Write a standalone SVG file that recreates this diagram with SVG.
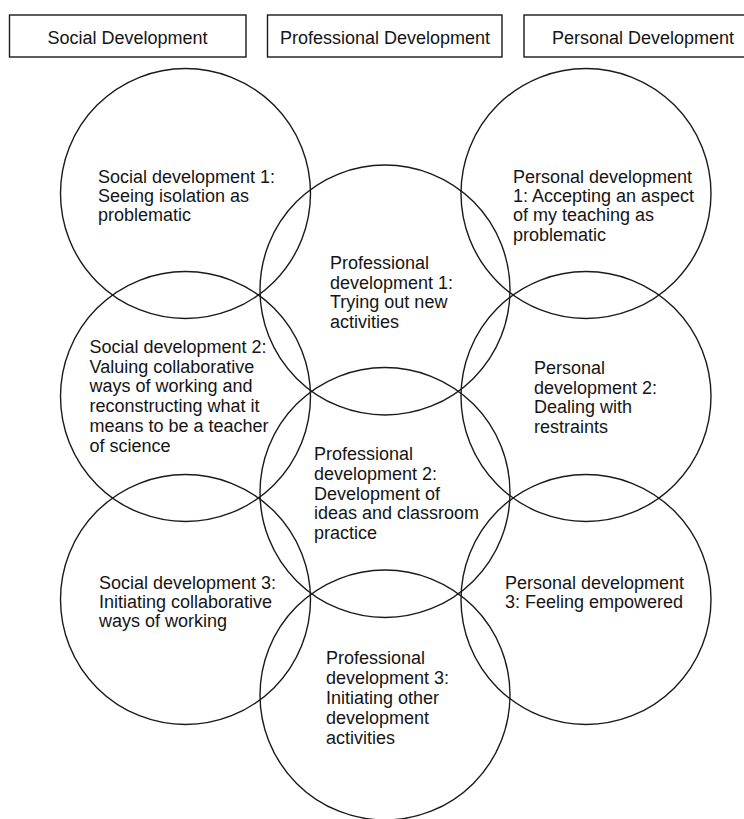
<svg xmlns="http://www.w3.org/2000/svg" width="744" height="819" viewBox="0 0 744 819">
<style>
.bg{fill:#ffffff}
.box{fill:none;stroke:#1a1a1a;stroke-width:1.4}
.c{fill:none;stroke:#1a1a1a;stroke-width:1.4}
.h{font-family:"Liberation Sans",Arial,sans-serif;font-size:18px;fill:#151515;text-anchor:middle}
.t{font-family:"Liberation Sans",Arial,sans-serif;font-size:18px;fill:#151515}
</style>
<rect class="bg" x="0" y="0" width="744" height="819"/>
<g id="header-social">
<rect class="box" x="9.5" y="15" width="236.5" height="42"/>
<text class="h" x="127.5" y="44">Social Development</text>
</g>
<g id="header-professional">
<rect class="box" x="267.5" y="15" width="234.5" height="42"/>
<text class="h" x="385" y="44">Professional Development</text>
</g>
<g id="header-personal">
<rect class="box" x="524" y="15" width="240" height="42"/>
<text class="h" x="643" y="44">Personal Development</text>
</g>
<g id="social-1">
<circle class="c" cx="185.5" cy="193.5" r="125"/>
<text class="t"><tspan x="98" y="183">Social development 1:</tspan><tspan x="98" y="202">Seeing isolation as</tspan><tspan x="98" y="221">problematic</tspan></text>
</g>
<g id="social-2">
<circle class="c" cx="185.5" cy="396.5" r="125"/>
<text class="t"><tspan x="89.5" y="353">Social development 2:</tspan><tspan x="89.5" y="373">Valuing collaborative</tspan><tspan x="89.5" y="392">ways of working and</tspan><tspan x="89.5" y="412">reconstructing what it</tspan><tspan x="89.5" y="432">means to be a teacher</tspan><tspan x="89.5" y="452">of science</tspan></text>
</g>
<g id="social-3">
<circle class="c" cx="185.5" cy="599.5" r="125"/>
<text class="t"><tspan x="99" y="589">Social development 3:</tspan><tspan x="99" y="608">Initiating collaborative</tspan><tspan x="99" y="627">ways of working</tspan></text>
</g>
<g id="professional-1">
<circle class="c" cx="385" cy="290" r="125"/>
<text class="t"><tspan x="330" y="269">Professional</tspan><tspan x="330" y="289">development 1:</tspan><tspan x="330" y="308">Trying out new</tspan><tspan x="330" y="328">activities</tspan></text>
</g>
<g id="professional-2">
<circle class="c" cx="385" cy="492.5" r="125"/>
<text class="t"><tspan x="314" y="460">Professional</tspan><tspan x="314" y="480">development 2:</tspan><tspan x="314" y="500">Development of</tspan><tspan x="314" y="519">ideas and classroom</tspan><tspan x="314" y="539">practice</tspan></text>
</g>
<g id="professional-3">
<circle class="c" cx="385" cy="695" r="125"/>
<text class="t"><tspan x="326" y="664">Professional</tspan><tspan x="326" y="684">development 3:</tspan><tspan x="326" y="704">Initiating other</tspan><tspan x="326" y="724">development</tspan><tspan x="326" y="744">activities</tspan></text>
</g>
<g id="personal-1">
<circle class="c" cx="586" cy="193.5" r="125"/>
<text class="t"><tspan x="513" y="183">Personal development</tspan><tspan x="513" y="202">1: Accepting an aspect</tspan><tspan x="513" y="221">of my teaching as</tspan><tspan x="513" y="241">problematic</tspan></text>
</g>
<g id="personal-2">
<circle class="c" cx="586" cy="396.5" r="125"/>
<text class="t"><tspan x="534" y="374">Personal</tspan><tspan x="534" y="394">development 2:</tspan><tspan x="534" y="413">Dealing with</tspan><tspan x="534" y="433">restraints</tspan></text>
</g>
<g id="personal-3">
<circle class="c" cx="586" cy="599.5" r="125"/>
<text class="t"><tspan x="505" y="589">Personal development</tspan><tspan x="505" y="608">3: Feeling empowered</tspan></text>
</g>
<g id="connectors"/>
</svg>
